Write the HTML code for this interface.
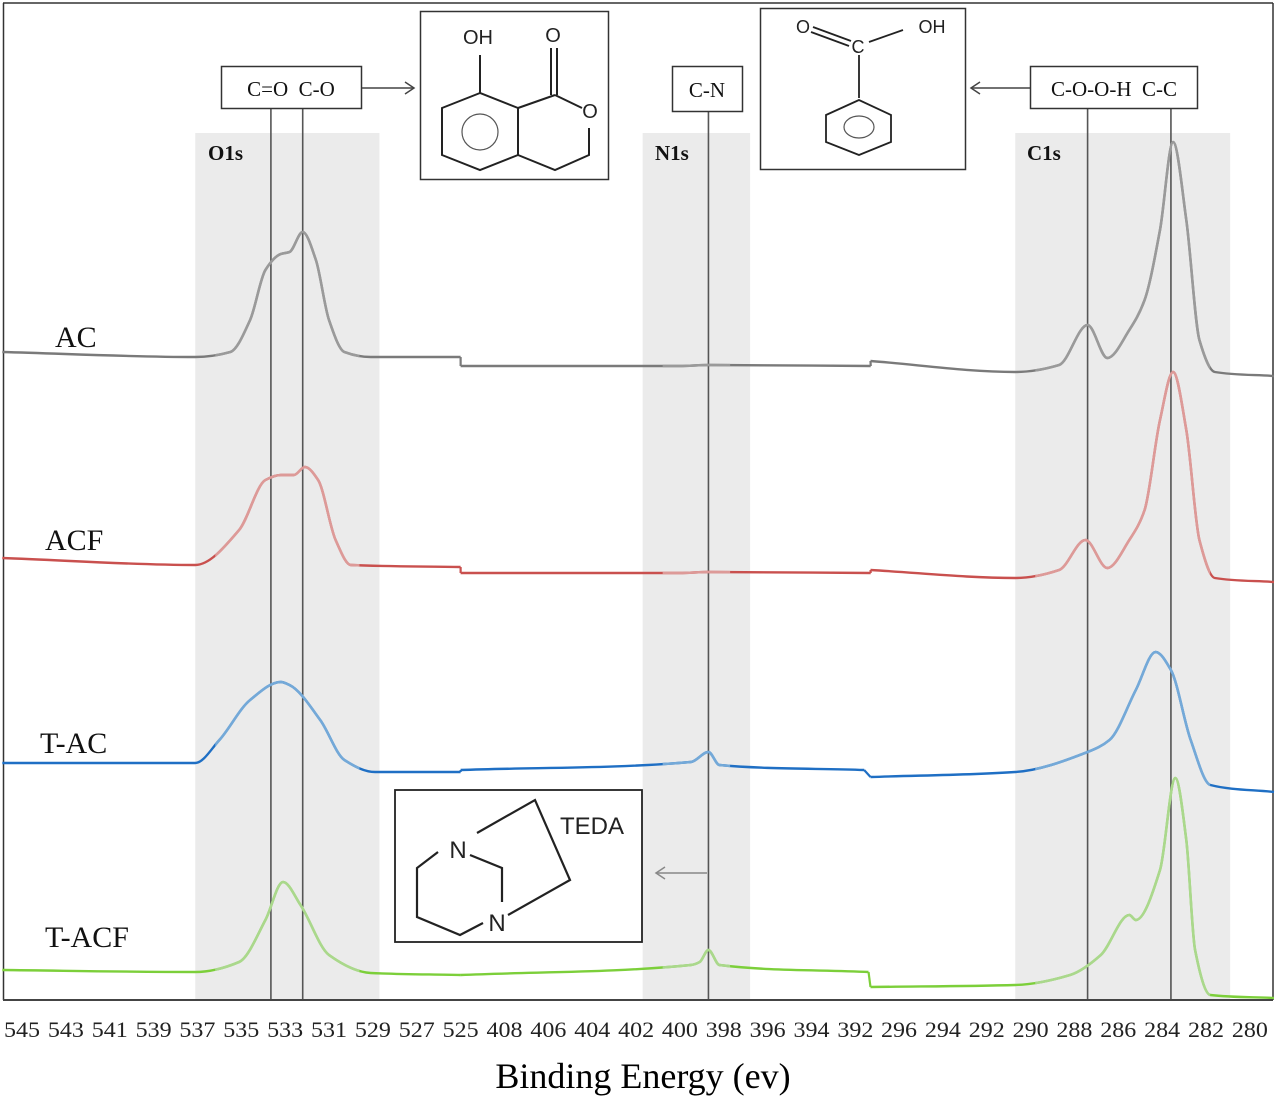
<!DOCTYPE html>
<html><head><meta charset="utf-8">
<style>
html,body{margin:0;padding:0;background:#fff;}
svg{display:block;}
.serif{font-family:"Liberation Serif",serif;}
.sans{font-family:"Liberation Sans","DejaVu Sans",sans-serif;}
</style></head>
<body>
<svg id="chart" width="1277" height="1105" viewBox="0 0 1277 1105" xmlns="http://www.w3.org/2000/svg">
<rect x="0" y="0" width="1277" height="1105" fill="#fff"/>
<g id="bands"></g>
<g id="frame">
  <line x1="3.5" y1="3" x2="3.5" y2="1000" stroke="#333" stroke-width="1.5"/>
  <line x1="3" y1="3" x2="1273" y2="3" stroke="#333" stroke-width="1.5"/>
  <line x1="1273" y1="3" x2="1273" y2="1000" stroke="#333" stroke-width="1.5"/>
</g>
<g id="refLines"></g>
<g id="series"></g>
<line x1="3" y1="1000" x2="1273" y2="1000" stroke="#444" stroke-width="2"/>
<g id="ticks"></g>
<text x="643" y="1088" text-anchor="middle" font-family="Liberation Serif, serif" font-size="36" fill="#000">Binding Energy (ev)</text>

<g font-family="Liberation Serif, serif" font-size="21" font-weight="bold" fill="#111">
  <text x="208" y="160">O1s</text>
  <text x="655" y="160">N1s</text>
  <text x="1027" y="160">C1s</text>
</g>
<g font-family="Liberation Serif, serif" font-size="30" fill="#111">
  <text x="55" y="347">AC</text>
  <text x="45" y="550">ACF</text>
  <text x="40" y="753">T-AC</text>
  <text x="45" y="947">T-ACF</text>
</g>

<g>
  <rect x="221.5" y="66.5" width="140" height="42" fill="#fff" stroke="#333" stroke-width="1.5"/>
  <text x="291" y="96" text-anchor="middle" font-family="Liberation Serif, serif" font-size="21" fill="#111" xml:space="preserve">C=O  C-O</text>
</g>
<g stroke="#444" stroke-width="1.5" fill="none">
  <line x1="362" y1="88" x2="414" y2="88"/><polyline points="405,82 414,88 405,94"/>
</g>
<g>
  <rect x="420.5" y="11.5" width="188" height="168" fill="#fff" stroke="#333" stroke-width="1.5"/>
  <g stroke="#222" stroke-width="2" fill="none">
    <polygon points="480,93 442,108 442,155 480,170 518,155 518,108"/>
    <circle cx="480" cy="132" r="18" stroke-width="1.2" stroke="#555"/>
    <line x1="480" y1="93" x2="480" y2="55"/>
    <line x1="518" y1="108" x2="555" y2="95"/>
    <line x1="551" y1="95" x2="551" y2="48"/><line x1="557" y1="95" x2="557" y2="48"/>
    <line x1="555" y1="95" x2="582" y2="108"/>
    <polyline points="589,128 589,155 555,170 518,155"/>
  </g>
  <g class="sans" font-size="20" fill="#222">
    <text x="478" y="44" text-anchor="middle">OH</text>
    <text x="553" y="42" text-anchor="middle">O</text>
    <text x="590" y="118" text-anchor="middle">O</text>
  </g>
</g>
<g>
  <rect x="672.5" y="66.5" width="70" height="45" fill="#fff" stroke="#333" stroke-width="1.5"/>
  <text x="707" y="97" text-anchor="middle" font-family="Liberation Serif, serif" font-size="21" fill="#111">C-N</text>
</g>
<g>
  <rect x="760.5" y="8.5" width="205" height="161" fill="#fff" stroke="#333" stroke-width="1.5"/>
  <g stroke="#222" stroke-width="1.8" fill="none">
    <polygon points="859,100 826,115 826,142 859,155 891,142 891,115"/>
    <ellipse cx="859" cy="127" rx="15" ry="11" stroke-width="1.2" stroke="#555"/>
    <line x1="859" y1="55" x2="859" y2="98"/>
    <line x1="813" y1="27" x2="851" y2="41"/><line x1="811" y1="32" x2="849" y2="46"/>
    <line x1="869" y1="42" x2="903" y2="30"/>
  </g>
  <g class="sans" font-size="18" fill="#222">
    <text x="803" y="33" text-anchor="middle">O</text>
    <text x="858" y="53" text-anchor="middle">C</text>
    <text x="932" y="33" text-anchor="middle">OH</text>
  </g>
</g>
<g stroke="#444" stroke-width="1.5" fill="none">
  <line x1="1030" y1="88" x2="971" y2="88"/><polyline points="980,82 971,88 980,94"/>
</g>
<g>
  <rect x="1030.5" y="66.5" width="167" height="42" fill="#fff" stroke="#333" stroke-width="1.5"/>
  <text x="1114" y="96" text-anchor="middle" font-family="Liberation Serif, serif" font-size="21" fill="#111" xml:space="preserve">C-O-O-H  C-C</text>
</g>
<g>
  <rect x="395" y="790" width="247" height="152" fill="#fff" stroke="#222" stroke-width="1.8"/>
  <g stroke="#222" stroke-width="2.2" fill="none">
    <polyline points="477,833 535,800 570,880 508,915"/>
    <polyline points="438,852 417,868 417,917 460,935 483,923"/>
    <polyline points="470,855 502,868 502,902"/>
  </g>
  <g class="sans" font-size="24" fill="#222">
    <text x="458" y="858" text-anchor="middle">N</text>
    <text x="497" y="931" text-anchor="middle">N</text>
    <text x="560" y="834">TEDA</text>
  </g>
</g>
<g stroke="#888" stroke-width="1.5" fill="none">
  <line x1="707" y1="873" x2="656" y2="873"/><polyline points="665,867 656,873 665,879"/>
</g>

<script>
// ---- axis data ----
const seg1Ticks = [545,543,541,539,537,535,533,531,529,527,525];
const seg2Ticks = [408,406,404,402,400,398,396,394,392];
const seg3Ticks = [296,294,292,290,288,286,284,282,280];
const refEnergies = [533.65, 532.2, 398.7, 287.4, 283.6];
const refTops = [108, 108, 111, 108, 108];
const bandO1s = [537.1, 528.7];
const bandN1s = [401.7, 396.8];
const bandC1s = [290.7, 280.9];

// ---- series data: energy (eV) and intensity (a.u.) per region ----
const acE1 = [545.9,537.1,535.5,534.6,533.9,533.2,532.8,532.2,531.6,531.0,530.3,529.1,525.0];
const acI1 = [648,643,648,680,730,746,748,768,740,680,648,643,643];
const acE2 = [410.0,400.0,398.7,391.3];
const acI2 = [634,634,635,634];
const acE3 = [297.3,290.7,288.7,287.4,286.5,285.5,284.8,284.1,283.5,282.9,282.3,281.6,278.9];
const acI3 = [639,628,635,675,642,670,700,770,858,780,660,628,624];

const acfE1 = [545.9,537.1,535.1,533.9,533.2,532.6,532.1,531.5,530.7,530.0,525.0];
const acfI1 = [442,435,470,520,525,525,533,520,460,435,433];
const acfE2 = [410.0,400.0,398.7,391.3];
const acfI2 = [427,427,428,427];
const acfE3 = [297.3,290.7,288.7,287.5,286.5,285.5,284.8,284.1,283.5,282.9,282.3,281.6,278.9];
const acfI3 = [430,422,430,460,432,460,490,580,628,570,460,422,418];

const tacE1 = [545.9,537.1,536.0,534.6,533.2,532.8,531.4,530.3,528.9,525.0];
const tacI1 = [237,237,260,300,318,315,280,240,228,228];
const tacE2 = [410.0,399.5,398.7,398.2,391.6];
const tacI2 = [230,238,248,235,230];
const tacE3 = [297.3,290.7,287.4,286.4,285.2,284.3,283.6,282.7,281.8,278.9];
const tacI3 = [223,228,248,260,310,348,330,260,215,208];

const tacfE1 = [545.9,537.1,535.1,533.9,533.1,532.3,531.0,529.1,525.0];
const tacfI1 = [30,28,38,80,118,95,45,27,25];
const tacfE2 = [410.0,399.5,399.1,398.7,398.2,391.4];
const tacfI2 = [25,35,38,50,35,28];
const tacfE3 = [297.3,290.7,288.2,286.8,285.5,285.2,284.1,283.4,282.9,282.5,281.8,278.9];
const tacfI3 = [13,15,25,45,85,80,130,222,160,50,5,2];

const seriesDefs = [
  {name:'series-ac', color:'#7a7a7a', peak:'#9a9a9a', segs:[[acE1,acI1],[acE2,acI2],[acE3,acI3]]},
  {name:'series-acf', color:'#c9504e', peak:'#dd9a98', segs:[[acfE1,acfI1],[acfE2,acfI2],[acfE3,acfI3]]},
  {name:'series-t-ac', color:'#1f6fc4', peak:'#74a9d8', segs:[[tacE1,tacI1],[tacE2,tacI2],[tacE3,tacI3]]},
  {name:'series-t-acf', color:'#7ccf3a', peak:'#aad88c', segs:[[tacfE1,tacfI1],[tacfE2,tacfI2],[tacfE3,tacfI3]]}
];

// ---- axis functions ----
const PX_PER_EV = 21.93;
function xScale(e){
  if (e > 500) return 22 + (545 - e) * PX_PER_EV;
  if (e > 350) return 504.5 + (408 - e) * PX_PER_EV;
  return 899 + (296 - e) * PX_PER_EV;
}
function yScale(v){ return 1000 - v; }

const NS = 'http://www.w3.org/2000/svg';
function mk(tag, attrs, parent){
  const el = document.createElementNS(NS, tag);
  for (const k in attrs) el.setAttribute(k, attrs[k]);
  parent.appendChild(el);
  return el;
}

const bandsG = document.getElementById('bands');
[bandO1s, bandN1s, bandC1s].forEach(b => {
  const x1 = xScale(b[0]), x2 = xScale(b[1]);
  const r = mk('rect', {x:x1, y:133, width:x2-x1, height:867, fill:'#ebebeb'}, bandsG);
  
  
});

const refG = document.getElementById('refLines');
refEnergies.forEach((e,i) => {
  const x = xScale(e);
  const l = mk('line', {x1:x, y1:refTops[i], x2:x, y2:1000, stroke:'#555', 'stroke-width':1.6}, refG);
  
  
});

// monotone cubic (Fritsch-Carlson) path, x increasing
function smoothPath(pts){
  const n = pts.length;
  if (n < 3){ return 'M' + pts.map(p => p[0].toFixed(1)+','+p[1].toFixed(1)).join(' L'); }
  const dx = [], s = [];
  for (let i = 0; i < n-1; i++){ dx.push(pts[i+1][0]-pts[i][0]); s.push((pts[i+1][1]-pts[i][1])/dx[i]); }
  const m = [s[0]];
  for (let i = 1; i < n-1; i++){
    if (s[i-1]*s[i] <= 0) m.push(0);
    else { const w1 = 2*dx[i]+dx[i-1], w2 = dx[i]+2*dx[i-1]; m.push((w1+w2)/(w1/s[i-1]+w2/s[i])); }
  }
  m.push(s[n-2]);
  let d = 'M' + pts[0][0].toFixed(1) + ',' + pts[0][1].toFixed(1);
  for (let i = 0; i < n-1; i++){
    const h = dx[i]/3;
    d += ' C' + (pts[i][0]+h).toFixed(1)+','+(pts[i][1]+m[i]*h).toFixed(1)+' '+(pts[i+1][0]-h).toFixed(1)+','+(pts[i+1][1]-m[i+1]*h).toFixed(1)+' '+pts[i+1][0].toFixed(1)+','+pts[i+1][1].toFixed(1);
  }
  return d;
}

const sG = document.getElementById('series');
seriesDefs.forEach(s => {
  const g = mk('g', {}, sG);
  
  
  let prevEnd = null;
  s.segs.forEach(([E, I]) => {
    const pts = E.map((e,i) => [xScale(e), yScale(I[i])]);
    if (prevEnd){
      const st = mk('line', {x1:prevEnd[0], y1:prevEnd[1], x2:pts[0][0], y2:pts[0][1], stroke:s.color, 'stroke-width':2.2}, g);
      
      
    }
    const p = mk('path', {d:smoothPath(pts), fill:'none', stroke:s.color, 'stroke-width':2.4, 'stroke-linejoin':'round'}, g);
    
    
    prevEnd = pts[pts.length-1];
  });
});
seriesDefs.forEach((s, si) => {
  const clipId = 'clip' + si;
  const defs = mk('defs', {}, sG);
  const cp = mk('clipPath', {id:clipId}, defs);
  [bandO1s, bandN1s, bandC1s].forEach(b => {
    mk('rect', {x:xScale(b[0])+20, y:0, width:xScale(b[1])-xScale(b[0])-40, height:1000}, cp);
  });
  const g = mk('g', {'clip-path':'url(#'+clipId+')'}, sG);
  
  
  s.segs.forEach(([E, I]) => {
    const pts = E.map((e,i) => [xScale(e), yScale(I[i])]);
    const p = mk('path', {d:smoothPath(pts), fill:'none', stroke:s.peak, 'stroke-width':2.6}, g);
    
    
  });
});

const tG = document.getElementById('ticks');
const allTicks = seg1Ticks.concat(seg2Ticks, seg3Ticks);
allTicks.forEach(v => {
  const t = mk('text', {x:xScale(v), y:1037, 'text-anchor':'middle', 'font-family':'Liberation Serif, serif', 'font-size':22, fill:'#222', textLength:36, lengthAdjust:'spacingAndGlyphs'}, tG);
  
  
  t.textContent = v;
});
</script>
</svg>
</body></html>
